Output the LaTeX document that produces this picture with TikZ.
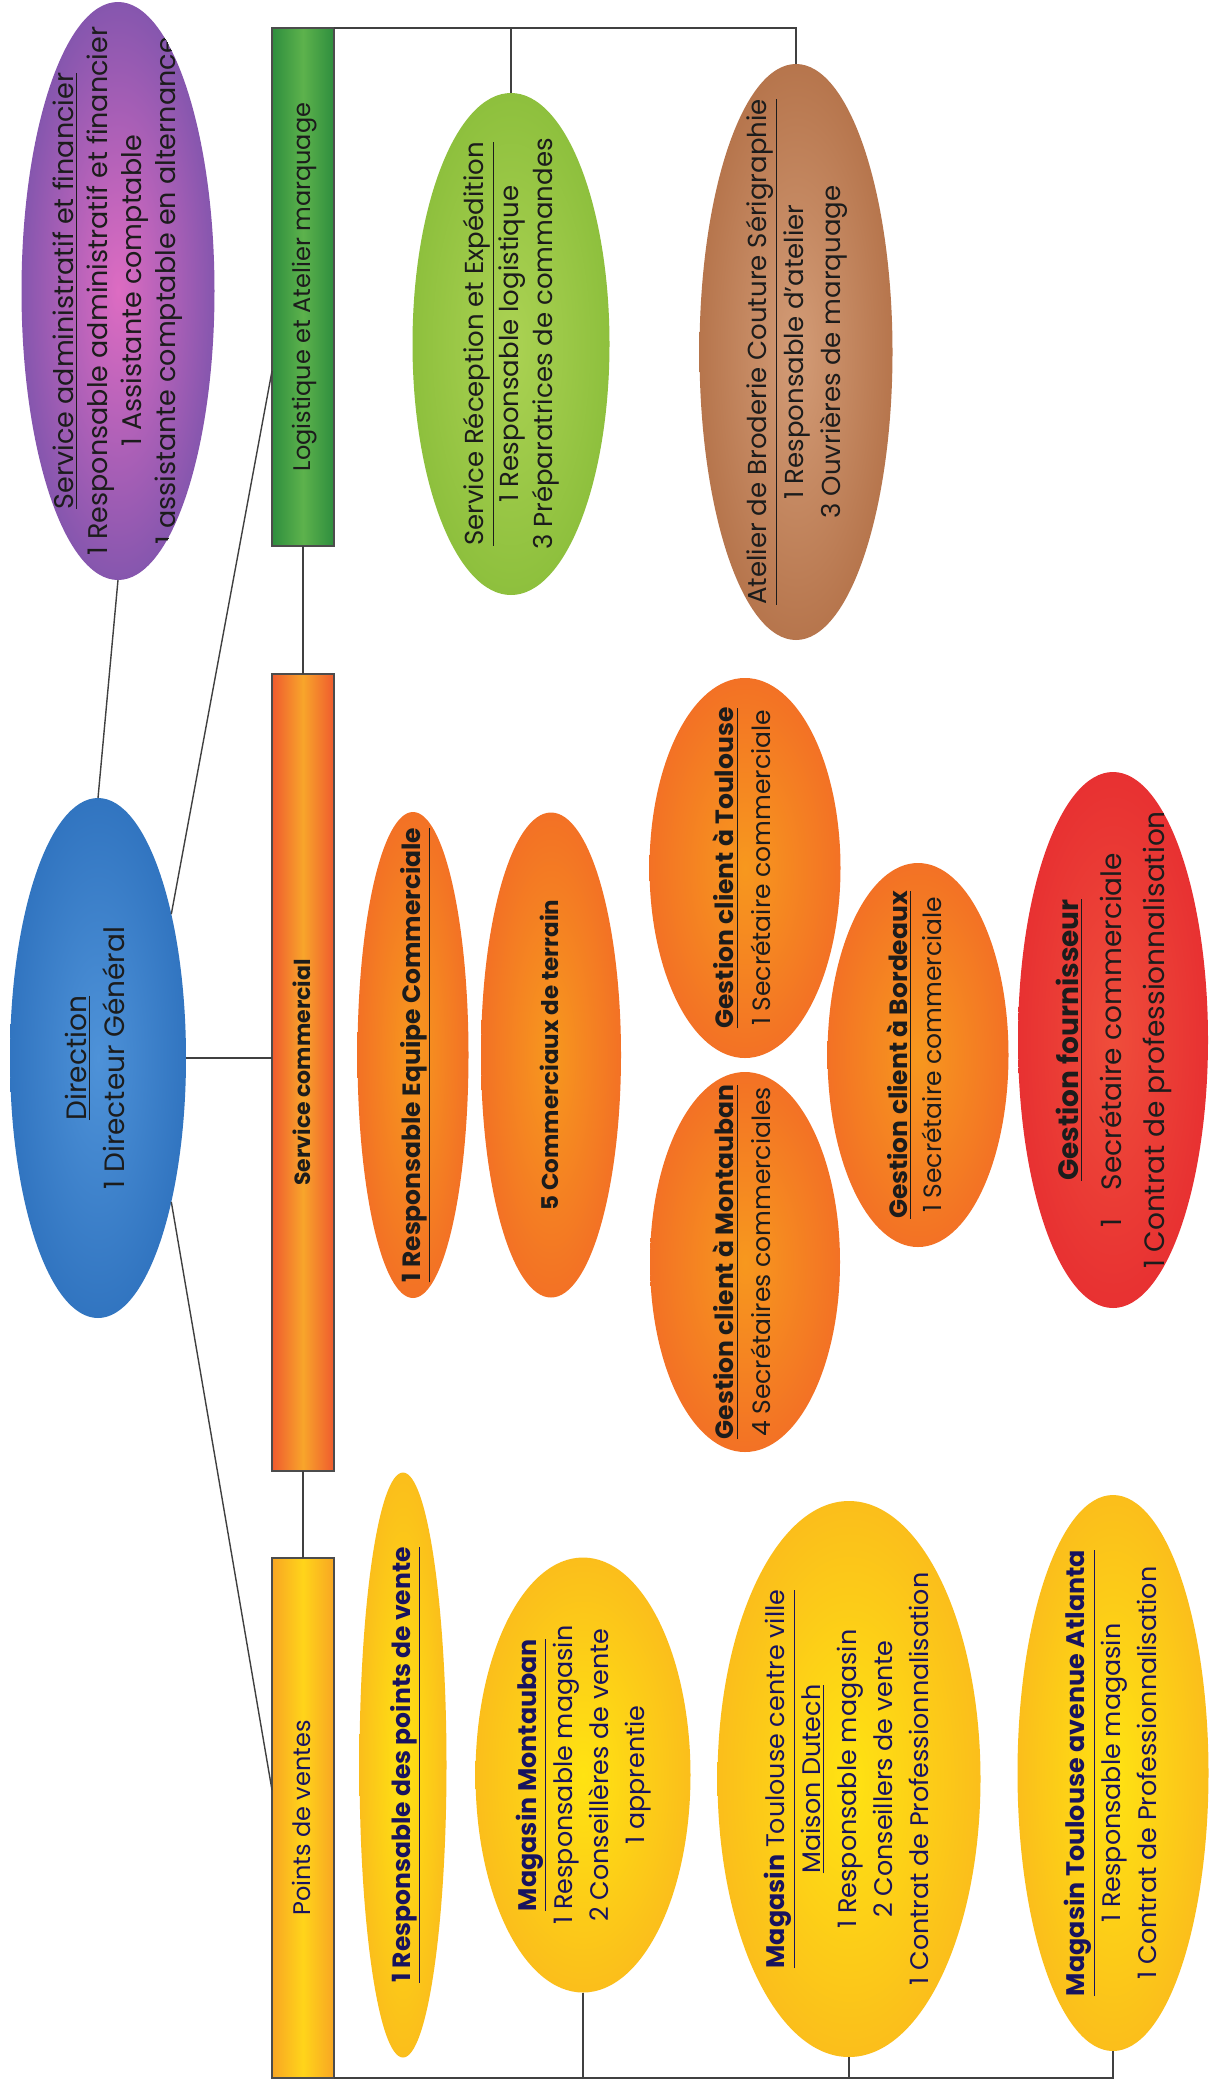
\documentclass[tikz,border=0pt]{standalone}
\usepackage{fontspec}
\setmainfont{Poppins}
\usepackage{graphicx}
\usetikzlibrary{shapes.geometric}

\definecolor{inkdark}{HTML}{1C1C1C}
\definecolor{inknavy}{HTML}{18135E}
\definecolor{purplein}{HTML}{DD6CC2}
\definecolor{purpleout}{HTML}{5149A2}
\definecolor{greenbar}{HTML}{2E8E3E}
\definecolor{greenbarin}{HTML}{5DB24C}
\definecolor{greenin}{HTML}{ABD253}
\definecolor{greenout}{HTML}{7CB530}
\definecolor{brownin}{HTML}{D39C77}
\definecolor{brownout}{HTML}{A55E33}
\definecolor{bluein}{HTML}{4E92D8}
\definecolor{blueout}{HTML}{2063B2}
\definecolor{orangebar}{HTML}{EF5B2E}
\definecolor{orangebarin}{HTML}{F8A52B}
\definecolor{orangein}{HTML}{F7981E}
\definecolor{orangeout}{HTML}{F05A29}
\definecolor{redin}{HTML}{EF4D3B}
\definecolor{redout}{HTML}{E3202C}
\definecolor{yellowin}{HTML}{FFE312}
\definecolor{yellowout}{HTML}{F8A821}
\definecolor{pvbar}{HTML}{F8A623}
\definecolor{pvbarin}{HTML}{FFD41A}

\colorlet{gin}{white}
\colorlet{gout}{black}
\pgfdeclareradialshading[gin,gout]{glow}{\pgfpoint{0bp}{0bp}}{color(0bp)=(gin); color(40bp)=(gout); color(100bp)=(gout)}

\newcommand{\vtext}[1]{\rotatebox{90}{\begin{tabular}{@{}c@{}}#1\end{tabular}}}

\begin{document}
\begin{tikzpicture}[x=0.5pt, y=-0.5pt,
    oval/.style = {ellipse, inner sep=0pt, outer sep=0pt},
    tint/.style 2 args = {/utils/exec={\colorlet{gin}{#1}\colorlet{gout}{#2}}, shade, shading=glow},
    says/.style = {path picture={\node at (path picture bounding box.center) {\vtext{#1}};}},
    bar/.style = {rectangle, draw=black!70, line width=0.6pt, inner sep=0pt, outer sep=0pt, minimum width=31pt},
    link/.style = {black!75, line width=0.7pt},
    dtext/.style = {text=inkdark, font=\fontsize{13}{18.5}\selectfont},
    ntext/.style = {text=inknavy, font=\fontsize{12.7}{18}\selectfont}]
    \path[use as bounding box, fill=white] (0,0) rectangle (1211,2083);
    % left column
    \node[oval, tint={purplein}{purpleout}, minimum width=96.5pt, minimum height=289pt, dtext, font=\fontsize{13.5}{17}\selectfont,
        says={\underline{Service administratif et financier}\\1 Responsable administratif et financier\\1 Assistante comptable\\1 assistante comptable en alternance}] (admin) at (118,291) {};
    \node[oval, tint={bluein}{blueout}, minimum width=88pt, minimum height=260pt, dtext, font=\fontsize{14}{19}\selectfont,
        says={\underline{Direction}\\1 Directeur Général}] (dir) at (98,1058) {};
    % bars
    \node[bar, left color=greenbar, right color=greenbar, middle color=greenbarin, minimum height=259pt, dtext, font=\fontsize{12}{18}\selectfont] (log) at (303,287) {\vtext{Logistique et Atelier marquage}};
    \node[bar, left color=orangebar, right color=orangebar, middle color=orangebarin, minimum height=398.5pt, dtext, font=\fontsize{11}{18}\selectfont] (sc) at (303,1072.5) {\vtext{\textbf{Service commercial}}};
    \node[bar, left color=pvbar, right color=pvbar, middle color=pvbarin, minimum height=260pt, ntext, font=\fontsize{12}{18}\selectfont] (pv) at (303,1818) {\vtext{Points de ventes}};
    % logistique
    \node[oval, tint={greenin}{greenout}, minimum width=98.5pt, minimum height=251pt, dtext, font=\fontsize{13}{17}\selectfont,
        says={\underline{Service Réception et Expédition}\\1 Responsable logistique\\3 Préparatrices de commandes}] (recep) at (511,344) {};
    \node[oval, tint={brownin}{brownout}, minimum width=96.5pt, minimum height=288pt, dtext,
        says={\underline{Atelier de Broderie Couture Sérigraphie}\\1 Responsable d'atelier\\3 Ouvrières de marquage}] (atelier) at (796,352) {};
    % commercial
    \node[oval, tint={orangein}{orangeout}, minimum width=55.5pt, minimum height=243pt, dtext, font=\fontsize{12.5}{18}\selectfont,
        says={\textbf{\underline{1 Responsable Equipe Commerciale}}}] (respcom) at (413,1055) {};
    \node[oval, tint={orangein}{orangeout}, minimum width=70pt, minimum height=242.5pt, dtext, font=\fontsize{11.5}{18}\selectfont,
        says={\textbf{5 Commerciaux de terrain}}] (comterr) at (551,1055) {};
    \node[oval, tint={orangein}{orangeout}, minimum width=95.5pt, minimum height=190pt, dtext, font=\fontsize{12.5}{18.5}\selectfont,
        says={\textbf{\underline{Gestion client à Toulouse}}\\1 Secrétaire commerciale}] (cltoul) at (745,868) {};
    \node[oval, tint={orangein}{orangeout}, minimum width=95pt, minimum height=190pt, dtext, font=\fontsize{12.5}{18.5}\selectfont,
        says={\textbf{\underline{Gestion client à Montauban}}\\4 Secrétaires commerciales}] (clmont) at (745,1262) {};
    \node[oval, tint={orangein}{orangeout}, minimum width=90.5pt, minimum height=192pt, dtext, font=\fontsize{12.5}{17}\selectfont,
        says={\textbf{\underline{Gestion client à Bordeaux}}\\1 Secrétaire commerciale}] (clbord) at (918,1055) {};
    \node[oval, tint={redin}{redout}, minimum width=95pt, minimum height=268pt, dtext, font=\fontsize{14}{21.5}\selectfont,
        says={\textbf{\underline{Gestion fournisseur}}\\1\quad Secrétaire commerciale\\1 Contrat de professionnalisation}] (fourn) at (1113,1040) {};
    % points de vente
    \node[oval, tint={yellowin}{yellowout}, minimum width=43.5pt, minimum height=292.5pt, ntext, font=\fontsize{12.5}{18}\selectfont,
        says={\textbf{\underline{1 Responsable des points de vente}}}] (resppv) at (403,1765) {};
    \node[oval, tint={yellowin}{yellowout}, minimum width=107.5pt, minimum height=217.5pt, ntext,
        says={\textbf{\underline{Magasin Montauban}}\\1 Responsable magasin\\2 Conseillères de vente\\1 apprentie}] (magmont) at (583,1775) {};
    \node[oval, tint={yellowin}{yellowout}, minimum width=131.5pt, minimum height=278pt, ntext,
        says={\underline{\textbf{Magasin} Toulouse centre ville}\\\underline{Maison Dutech}\\1 Responsable magasin\\2 Conseillers de vente\\1 Contrat de Professionnalisation}] (toulcv) at (849,1779) {};
    \node[oval, tint={yellowin}{yellowout}, minimum width=95.5pt, minimum height=278pt, ntext,
        says={\textbf{\underline{Magasin Toulouse avenue Atlanta}}\\1 Responsable magasin\\1 Contrat de Professionnalisation}] (toulatl) at (1113,1773) {};
    % connectors
    \coordinate (logpt) at (272,371);
    \coordinate (pvpt) at (272,1790);
    \draw[link] (dir.north) -- (admin.south);
    \draw[link] (dir.63) -- (logpt);
    \draw[link] (dir.east) -- (dir.east -| sc.west);
    \draw[link] (dir.-63) -- (pvpt);
    \draw[link] (log.south) -- (sc.north);
    \draw[link] (sc.south) -- (pv.north);
    \draw[link] (log.north east) -| (atelier.north);
    \draw[link] (recep.north) -- (recep.north |- log.north);
    \draw[link] (pv.south east) -| (toulatl.south);
    \draw[link] (magmont.south) -- (magmont.south |- pv.south);
    \draw[link] (toulcv.south) -- (toulcv.south |- pv.south);
\end{tikzpicture}
\end{document}
